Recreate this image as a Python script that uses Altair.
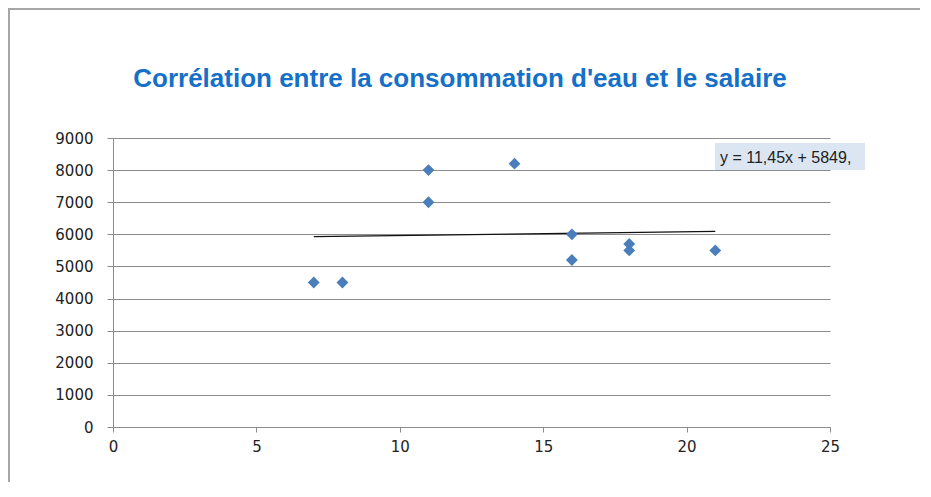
import altair as alt
import pandas as pd

# Data
x_vals = [7, 8, 11, 11, 14, 16, 16, 18, 18, 21]
y_vals = [4500, 4500, 8000, 7000, 8200, 6000, 5200, 5700, 5500, 5500]
x_ticks = [0, 5, 10, 15, 20, 25]
y_ticks = [0, 1000, 2000, 3000, 4000, 5000, 6000, 7000, 8000, 9000]
chart_title = ["Corrélation entre la consommation d'eau et le salaire"]
equation_label = ["y = 11,45x + 5849,"]

df = pd.DataFrame({"x": x_vals, "y": y_vals})
one = alt.Data(values=[{}])

GRAY = "#8c8c8c"
xscale = alt.Scale(domain=[0, 25], nice=False, zero=False)
yscale = alt.Scale(domain=[0, 9000], nice=False)
xaxis = alt.Axis(
    values=x_ticks, title=None, grid=False, domainColor=GRAY, tickColor=GRAY,
    tickSize=5, labelPadding=7, labelFont="DejaVu Sans", labelFontSize=15,
    labelColor="#222222", labelFlush=False, labelOverlap=False, format="d")
yaxis = alt.Axis(
    values=y_ticks, title=None, grid=True, gridColor=GRAY, domainColor=GRAY,
    tickColor=GRAY, tickSize=6, labelPadding=14, labelFont="DejaVu Sans",
    labelFontSize=15, labelColor="#222222", labelOverlap=False, format="d")

points = alt.Chart(df).mark_point(
    shape="diamond", filled=True, size=140, color="#4a7ebb", opacity=1
).encode(
    x=alt.X("x:Q", scale=xscale, axis=xaxis),
    y=alt.Y("y:Q", scale=yscale, axis=yaxis),
)

trend = alt.Chart(df).transform_regression("x", "y").mark_line(
    color="#111111", strokeWidth=1.3
).encode(
    x=alt.X("x:Q", scale=xscale, axis=xaxis),
    y=alt.Y("y:Q", scale=yscale, axis=yaxis),
)

label_df = pd.DataFrame({"t": equation_label})
label_box = alt.Chart(label_df).mark_rect(color="#dce6f2").encode(
    x=alt.value(602), x2=alt.value(752), y=alt.value(5), y2=alt.value(32)
)
label_text = alt.Chart(label_df).mark_text(
    align="left", baseline="alphabetic", font="Liberation Sans", fontSize=16, color="#222222"
).encode(x=alt.value(607), y=alt.value(24.5), text="t:N")

title_df = pd.DataFrame({"t": chart_title})
title = alt.Chart(title_df).mark_text(
    align="center", baseline="alphabetic", font="Liberation Sans", fontSize=26,
    fontWeight="bold", color="#1570c8"
).encode(x=alt.value(347), y=alt.value(-51), text="t:N")

frame_top = alt.Chart(one).mark_rule(color="#a6a6a6", strokeWidth=2).encode(
    x=alt.value(-105), x2=alt.value(807), y=alt.value(-129)
)
frame_left = alt.Chart(one).mark_rule(color="#a6a6a6", strokeWidth=2).encode(
    x=alt.value(-104), y=alt.value(-129), y2=alt.value(345)
)

chart = alt.layer(
    frame_top, frame_left, trend, points, label_box, label_text, title
).properties(
    width=717, height=289,
    padding={"left": 105, "top": 130, "right": 90, "bottom": 55},
    autosize=alt.AutoSizeParams(type="none"),
).configure_view(stroke=None)

chart.save("out.html", embed_options={"renderer": "svg", "actions": False})
